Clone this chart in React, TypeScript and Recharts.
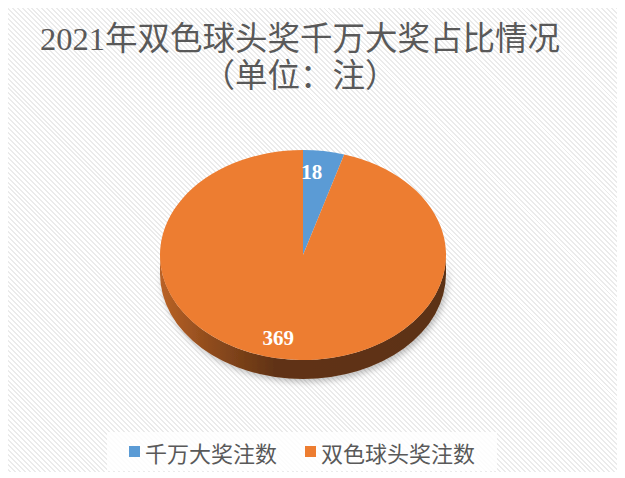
import { Legend, Pie, PieChart } from "recharts";

const TITLE_LINES = ["2021年双色球头奖千万大奖占比情况", "（单位：注）"];
const NAMES = ["千万大奖注数", "双色球头奖注数"];
const COUNTS = [18, 369];
const COLORS = ["#5B9BD5", "#ED7D31"];

const TILT = 0.734; // vertical squash of the top face
const DEPTH = 19;

const data = NAMES.map((name, i) => ({ name, value: COUNTS[i], fill: COLORS[i] }));

const rad = (a: number) => (a * Math.PI) / 180;

function shade(hex: string, f: number) {
  const n = parseInt(hex.slice(1), 16);
  const c = [(n >> 16) & 255, (n >> 8) & 255, n & 255].map((v) => Math.round(v * f));
  return `rgb(${c.join(",")})`;
}

function Slice3D(props: any) {
  const { cx, cy, outerRadius, startAngle, endAngle, fill, index } = props;
  const rx = outerRadius;
  const ry = outerRadius * TILT;
  const pt = (a: number, dy = 0) =>
    `${cx + rx * Math.cos(rad(a))},${cy - ry * Math.sin(rad(a)) + dy}`;
  const hi = Math.max(startAngle, endAngle);
  const lo = Math.min(startAngle, endAngle);

  // front wall: parts of the slice in the lower half of the ellipse
  const sides: string[] = [];
  for (let k = -2; k <= 1; k++) {
    const s = Math.max(lo, 180 + 360 * k);
    const e = Math.min(hi, 360 + 360 * k);
    if (e > s) {
      sides.push(
        `M${pt(s)} A${rx},${ry} 0 0 0 ${pt(e)} L${pt(e, DEPTH)} A${rx},${ry} 0 0 1 ${pt(s, DEPTH)} Z`
      );
    }
  }
  const large = hi - lo > 180 ? 1 : 0;
  const top = `M${cx},${cy} L${pt(hi)} A${rx},${ry} 0 ${large} 1 ${pt(lo)} Z`;
  const gid = `side-${index}`;

  return (
    <g>
      <defs>
        <linearGradient id={gid} gradientUnits="userSpaceOnUse" x1={cx - rx} x2={cx + rx} y1={0} y2={0}>
          <stop offset="0" stopColor={shade(fill, 0.78)} />
          <stop offset="0.18" stopColor={shade(fill, 0.6)} />
          <stop offset="0.4" stopColor={shade(fill, 0.41)} />
          <stop offset="1" stopColor={shade(fill, 0.39)} />
        </linearGradient>
        <filter id={`sh-${index}`} x="-20%" y="-20%" width="140%" height="160%">
          <feDropShadow dx="2" dy="3" stdDeviation="3" floodColor="#000" floodOpacity="0.25" />
        </filter>
      </defs>
      {sides.map((d, i) => (
        <path key={i} d={d} fill={`url(#${gid})`} filter={`url(#sh-${index})`} />
      ))}
      <path d={top} fill={fill} />
    </g>
  );
}

function renderLabel(props: any) {
  const { cx, cy, midAngle, outerRadius, value } = props;
  const x = cx + outerRadius * 0.8 * Math.cos(rad(midAngle)) - 8;
  const y = cy - outerRadius * TILT * 0.8 * Math.sin(rad(midAngle));
  return (
    <text
      x={x}
      y={y}
      fill="#fff"
      textAnchor="middle"
      dominantBaseline="central"
      fontFamily="Liberation Serif"
      fontWeight="bold"
      fontSize={21}
    >
      {value}
    </text>
  );
}

function renderLegend(props: any) {
  const { payload = [] } = props;
  return (
    <div
      style={{
        height: 39,
        background: "rgba(255,255,255,0.85)",
        display: "flex",
        alignItems: "center",
        justifyContent: "center",
        gap: 28,
        fontFamily: "'Noto Sans CJK SC'",
        fontSize: 22,
        color: "#595959",
      }}
    >
      {payload.map((p: any) => (
        <span key={p.value} style={{ display: "flex", alignItems: "center", gap: 5 }}>
          <span style={{ width: 11, height: 11, background: p.color, display: "inline-block" }} />
          {p.value}
        </span>
      ))}
    </div>
  );
}

export default function App() {
  return (
    <div
      style={{
        position: "relative",
        marginLeft: -8,
        width: 617,
        height: 464,
        background:
          "repeating-linear-gradient(45deg, #ebebeb 0px, #ebebeb 1.4px, #ffffff 1.4px, #ffffff 3.5px)",
      }}
    >
      <div
        style={{
          position: "absolute",
          top: 13,
          left: 0,
          width: 600,
          textAlign: "center",
          fontFamily: "'Liberation Serif', 'Noto Sans CJK SC'",
          fontSize: 32.5,
          lineHeight: "37px",
          color: "#595959",
        }}
      >
        {TITLE_LINES.map((t) => (
          <div key={t}>{t}</div>
        ))}
      </div>
      <PieChart width={617} height={464} style={{ position: "absolute", top: 0, left: 0 }}>
        <Pie
          data={data}
          dataKey="value"
          nameKey="name"
          cx={298}
          cy={242}
          outerRadius={143}
          startAngle={90}
          endAngle={-270}
          stroke="none"
          shape={Slice3D}
          label={renderLabel}
          labelLine={false}
          isAnimationActive={false}
        />
        <Legend
          content={renderLegend}
          wrapperStyle={{ position: "absolute", left: 107, top: 424, width: 390, height: 39 }}
        />
      </PieChart>
    </div>
  );
}
